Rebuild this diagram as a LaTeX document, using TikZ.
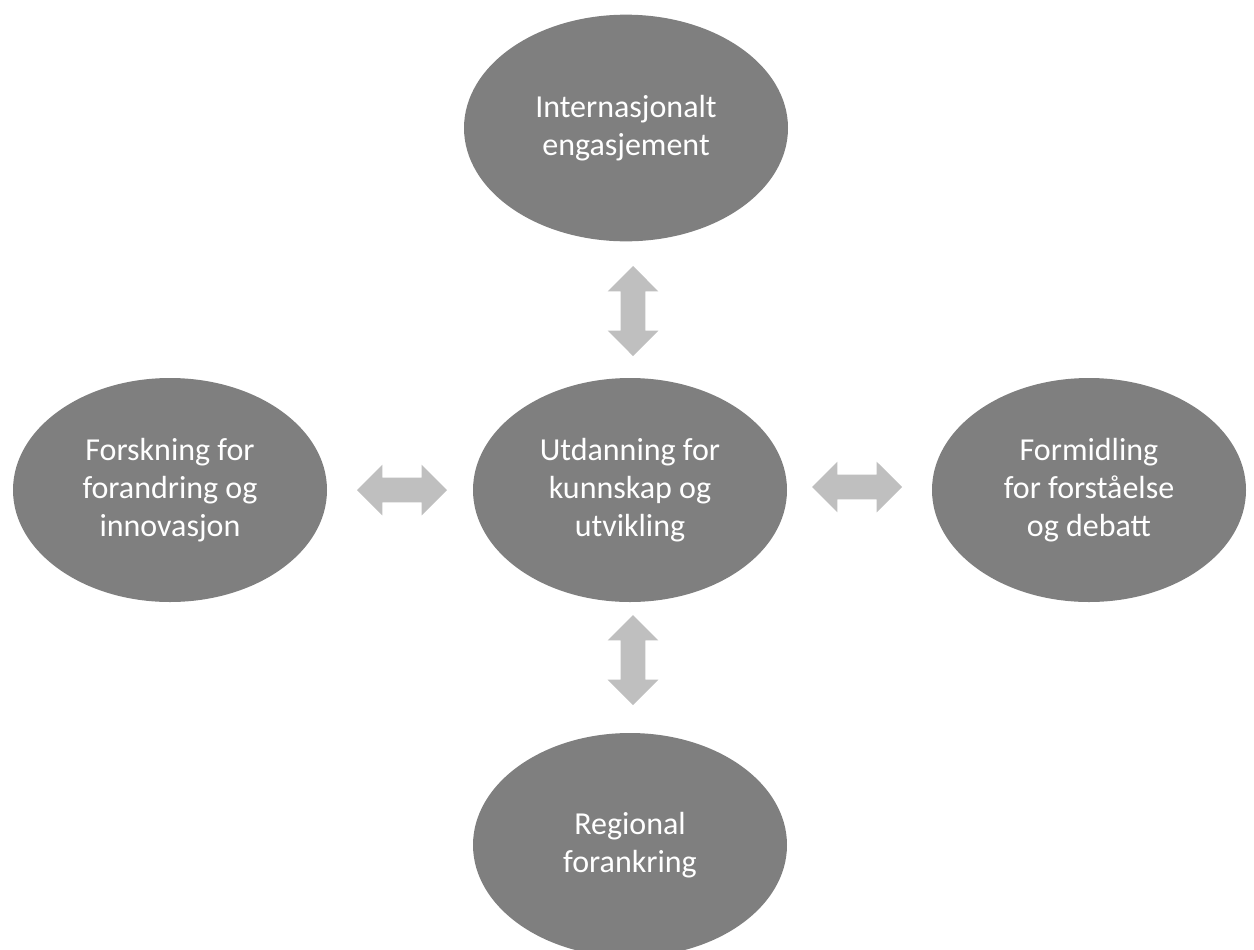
\documentclass[tikz,border=0pt]{standalone}
\usepackage{fontspec}
\setmainfont{Carlito}
\usetikzlibrary{shapes.geometric,shapes.arrows}
\definecolor{ovalgray}{HTML}{7F7F7F}
\definecolor{arrowgray}{HTML}{BFBFBF}
\begin{document}
\begin{tikzpicture}[x=0.75pt,y=-0.75pt,
	oval/.style={ellipse,fill=ovalgray,text=white,align=center,inner sep=0pt,
		minimum width=235.5pt,minimum height=168pt,
		font=\fontsize{24}{28.5}\selectfont},
	link/.style={double arrow,fill=arrowgray,inner xsep=0pt,inner ysep=9pt,
		text height=0pt,text depth=0pt,minimum height=67.5pt,
		double arrow head extend=9.75pt,double arrow head indent=0pt}]
	\useasboundingbox (0,0) rectangle (1254,950);
	\node [oval,minimum width=243pt,minimum height=170pt] (intl) at (626,128) {Internasjonalt\\engasjement};
	\node [oval] (utd) at (630,490) {Utdanning for\\kunnskap og\\utvikling};
	\node [oval] (forsk) at (170,490) {Forskning for\\forandring og\\innovasjon};
	\node [oval] (formid) at (1089,490) {Formidling\\for forståelse\\og debatt};
	\node [oval] (reg) at (630,845) {Regional\\forankring};
	% block arrows between the ovals
	\node [link,rotate=90] (a1) at (633,311) {};
	\node [link] (a2) at (402,490) {};
	\node [link] (a3) at (857,487) {};
	\node [link,rotate=90] (a4) at (633,660) {};
\end{tikzpicture}
\end{document}
